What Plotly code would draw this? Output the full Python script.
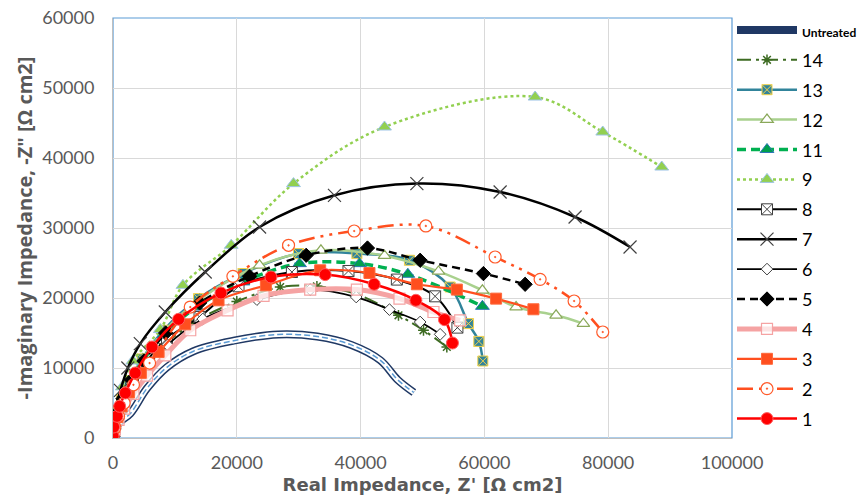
import plotly.graph_objects as go

# ---------------- data ----------------
untreated_x = [0, 300, 1000, 2800, 5500, 8700, 13000, 19500, 26700, 33000, 38500, 43200, 46000, 48600]
untreated_y = [0, 1000, 2200, 3500, 7100, 10100, 12400, 13900, 14800, 14500, 13300, 11100, 8300, 6500]

s14_x = [0, 200, 700, 1500, 2800, 4800, 8000, 13000, 20000, 27010, 32940, 39500, 46120, 50160, 53930]
s14_y = [150, 1300, 2900, 4700, 7000, 9600, 13000, 16500, 19500, 21570, 21670, 20500, 17530, 15390, 13000]

s13_x = [0, 200, 700, 1400, 2700, 4700, 8170, 13820, 21000, 29970, 39400, 47890, 54460, 57420, 59100, 59750]
s13_y = [200, 1700, 3500, 5500, 8200, 11300, 15390, 19910, 23500, 26340, 26340, 25390, 21570, 16340, 13800, 11000]

s12_x = [0, 200, 700, 1500, 2800, 4800, 8300, 14000, 23680, 33590, 43860, 52580, 59680, 65120, 71580, 75990]
s12_y = [200, 1700, 3500, 5500, 8200, 11300, 15300, 19800, 24670, 26810, 26050, 23800, 21100, 18710, 17530, 16340]

s11_x = [0, 200, 700, 1500, 2800, 4800, 8200, 13500, 21000, 30130, 39820, 47630, 59680]
s11_y = [200, 1700, 3400, 5400, 8000, 11000, 14800, 18700, 22300, 24910, 24910, 23390, 18810]

s9_x = [0, 150, 600, 1500, 3200, 7640, 11300, 19100, 29160, 43860, 68190, 79120, 88650]
s9_y = [250, 2000, 4300, 7300, 11000, 15490, 21810, 27530, 36340, 44430, 48710, 43710, 38710]

s8_x = [0, 250, 800, 1600, 3000, 5200, 8720, 13980, 20280, 28900, 38040, 45860, 52040, 55640]
s8_y = [200, 1600, 3300, 5100, 7700, 10700, 14200, 17290, 21670, 23710, 23860, 22630, 20240, 15770]

s7_x = [0, 150, 500, 1200, 2400, 4410, 8450, 14900, 23680, 35780, 49090, 62540, 74650, 83530]
s7_y = [300, 2000, 4200, 6800, 10000, 13490, 18000, 23710, 30140, 34670, 36340, 35140, 31570, 27290]

s6_x = [0, 250, 800, 1600, 3000, 5200, 8800, 14500, 23250, 31860, 39290, 44660, 49620, 52850]
s6_y = [200, 1500, 3100, 4800, 7100, 9900, 13300, 17000, 19770, 21200, 20140, 18340, 16570, 14810]

s5_x = [0, 200, 800, 1600, 3000, 5000, 8500, 14000, 22060, 31210, 41110, 49620, 59840, 66580]
s5_y = [250, 1800, 3600, 5600, 8300, 11000, 15000, 19300, 23100, 26100, 27140, 25390, 23490, 21960]

s4_x = [0, 300, 900, 1800, 3300, 5500, 8450, 12480, 18510, 24320, 31860, 39400, 46280, 51770, 56080]
s4_y = [150, 1200, 2600, 4200, 6300, 8900, 11810, 15390, 18240, 20300, 21200, 21200, 19910, 18000, 16800]

s3_x = [0, 200, 700, 1400, 2600, 4500, 7370, 11670, 17050, 24700, 33470, 41430, 49090, 55550, 61890, 67920]
s3_y = [200, 1500, 3000, 4500, 6500, 9300, 12290, 16240, 19670, 21810, 23960, 23570, 21960, 21200, 19910, 18390]

s2_x = [0, 300, 900, 1800, 3300, 5910, 12480, 19370, 28360, 38960, 50540, 61730, 69000, 74490, 79120]
s2_y = [200, 1500, 3100, 5000, 7600, 10710, 18710, 23100, 27530, 29570, 30290, 25860, 22670, 19570, 15140]

s1_x = [0, 100, 650, 1070, 1990, 3600, 6300, 10600, 17440, 25510, 34280, 42190, 48930, 53550, 54840]
s1_y = [240, 1570, 3100, 4530, 6430, 9290, 13000, 16960, 20710, 23000, 23340, 21960, 19670, 16910, 13570]

x_ticks = [0, 20000, 40000, 60000, 80000, 100000]
y_ticks = [0, 10000, 20000, 30000, 40000, 50000, 60000]

# ---------------- figure ----------------
fig = go.Figure()

# Untreated: double line (navy / white / blue dashed centre)
fig.add_trace(go.Scatter(x=untreated_x, y=untreated_y, mode="lines", name="<b><span style='font-size:12px'>Untreated</span></b>",
                         line=dict(color="#1f3864", width=8, shape="spline"), legendgroup="u"))
fig.add_trace(go.Scatter(x=untreated_x, y=untreated_y, mode="lines", showlegend=False,
                         line=dict(color="white", width=5, shape="spline"), legendgroup="u", hoverinfo="skip"))
fig.add_trace(go.Scatter(x=untreated_x, y=untreated_y, mode="lines", showlegend=False,
                         line=dict(color="#5b9bd5", width=1.5, shape="spline", dash="6px,3px"), legendgroup="u", hoverinfo="skip"))

def add(name, xs, ys, lcolor, lwidth, dash, symbol, msize, mcolor, mline_color, mline_width):
    fig.add_trace(go.Scatter(
        x=xs, y=ys, mode="lines+markers", name=name, legendgroup=name,
        line=dict(color=lcolor, width=lwidth, dash=dash, shape="spline", smoothing=1),
        marker=dict(symbol=symbol, size=msize, color=mcolor,
                    line=dict(color=mline_color, width=mline_width)),
    ))

add("14", s14_x, s14_y, "#3d6b22", 2, "14px,5px,3px,5px", "asterisk-open", 9, "#3d6b22", "#3d6b22", 1.5)
add("13", s13_x, s13_y, "#31849b", 2.5, "solid", "square-x", 10, "#31849b", "#f2d24b", 1)
add("12", s12_x, s12_y, "#a9d18e", 2.5, "solid", "triangle-up", 11, "white", "#8aa85a", 1.2)
add("11", s11_x, s11_y, "#00b050", 3.5, "9px,5px", "triangle-up", 12, "#009f4d", "#2e75b6", 1)
add("9", s9_x, s9_y, "#92d050", 2.5, "dot", "triangle-up", 12, "#92d050", "#9dc3e6", 1)
add("8", s8_x, s8_y, "#000000", 2, "solid", "square-x", 11, "white", "#404040", 1)
add("7", s7_x, s7_y, "#000000", 2.5, "solid", "x-thin-open", 13, "#404040", "#404040", 1.2)
add("6", s6_x, s6_y, "#000000", 1.8, "solid", "diamond", 9, "white", "#404040", 1)
add("5", s5_x, s5_y, "#000000", 2.5, "8px,5px", "diamond", 11, "#000000", "#000000", 1)
add("4", s4_x, s4_y, "#f5a3a3", 5, "solid", "square", 11, "rgba(255,255,255,0.7)", "#f5a3a3", 1.2)
add("3", s3_x, s3_y, "#ff4f1f", 2.2, "solid", "square", 11, "#ff4f1f", "#ff6a3d", 1)
add("2", s2_x, s2_y, "#ff4f1f", 2.5, "16px,6px,3px,6px,3px,6px", "circle-dot", 12, "white", "#ff5a2a", 1.2)
add("1", s1_x, s1_y, "#ff0000", 2.5, "solid", "circle", 12, "#ff0000", "#ff6060", 1)

axis_font = dict(family="Lato, Roboto, sans-serif", size=18, color="#595959")
xtitle_font = dict(family="DejaVu Sans, sans-serif", size=18, color="#595959")
ytitle_font = dict(family="Open Sans, sans-serif", size=20, color="#595959")

fig.update_xaxes(range=[0, 100000], tickvals=x_ticks, tickformat="d",
                 showgrid=True, gridcolor="#d9d9d9", gridwidth=1.3,
                 zeroline=False, showline=True, linecolor="#bfbfbf", linewidth=1,
                 tickfont=axis_font, ticks="", ticklabelstandoff=8,
                 title=dict(text="<b>Real Impedance, Z' [Ω cm2]</b>", font=xtitle_font, standoff=6))
fig.update_yaxes(range=[0, 60000], tickvals=y_ticks, tickformat="d",
                 showgrid=True, gridcolor="#d9d9d9", gridwidth=1.3,
                 zeroline=False, showline=True, linecolor="#bfbfbf", linewidth=1,
                 tickfont=axis_font, ticks="", ticklabelstandoff=14,
                 title=dict(text="<b>-Imaginary Impedance, -Z\" [Ω cm2]</b>", font=ytitle_font, standoff=4))

fig.add_shape(type="rect", xref="paper", yref="paper", x0=0, y0=0, x1=1, y1=1,
              line=dict(color="#5b9bd5", width=1.2), layer="below")

fig.update_layout(
    width=861, height=497,
    margin=dict(l=113, r=129, t=18, b=59, autoexpand=False),
    paper_bgcolor="white", plot_bgcolor="white",
    showlegend=True,
    legend=dict(x=1.0, y=1.015, xanchor="left", yanchor="top",
                font=dict(family="Lato, Roboto, sans-serif", size=18, color="black"),
                tracegroupgap=3.5, bgcolor="rgba(0,0,0,0)", itemwidth=60, maxheight=490),
)

fig.write_html("out.html")
